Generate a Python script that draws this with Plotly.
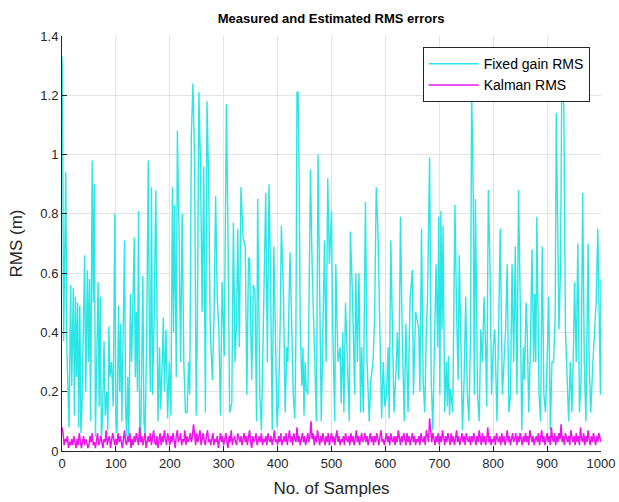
import plotly.graph_objects as go

# ---- data ----
fixed_x = [0, 1, 3, 5, 7, 9, 11, 13, 16, 18, 21, 23, 25, 27, 29, 31, 33, 35, 37, 39,
           42, 44, 47, 49, 51, 53, 56, 58, 60, 62, 64, 67, 69, 71, 73, 75, 78, 80, 83, 85,
           87, 89, 92, 95, 98, 100, 102, 105, 107, 109, 111, 113, 116, 118, 120, 122, 124, 127, 129, 131,
           134, 136, 138, 140, 142, 144, 146, 148, 150, 152, 154, 157, 160, 162, 164, 166, 168, 171, 174, 176,
           178, 181, 183, 186, 188, 190, 193, 196, 199, 202, 205, 207, 209, 212, 214, 217, 220, 223, 226, 229,
           232, 235, 237, 240, 243, 246, 249, 251, 254, 257, 260, 263, 266, 269, 272, 275, 279, 282, 285, 288,
           291, 294, 297, 301, 305, 308, 311, 315, 318, 321, 324, 326, 329, 332, 336, 340, 343, 346, 348, 352,
           355, 358, 361, 363, 367, 370, 373, 375, 378, 381, 384, 387, 390, 393, 396, 399, 402, 405, 407, 411,
           414, 417, 419, 423, 426, 429, 432, 434, 436, 438, 440, 442, 445, 447, 449, 451, 453, 456, 458, 461,
           464, 468, 472, 475, 478, 481, 484, 487, 490, 493, 496, 500, 502, 506, 508, 512, 516, 518, 521, 523,
           526, 529, 533, 535, 539, 543, 545, 548, 551, 554, 556, 559, 563, 566, 570, 573, 577, 580, 583, 586,
           590, 593, 596, 599, 602, 605, 607, 610, 613, 616, 620, 622, 625, 628, 631, 635, 638, 642, 644, 646,
           650, 652, 656, 659, 662, 664, 667, 670, 673, 676, 678, 682, 685, 688, 691, 694, 697, 699, 701, 703,
           705, 707, 710, 713, 715, 717, 719, 721, 725, 727, 729, 732, 735, 737, 740, 743, 746, 749, 752, 755,
           758, 760, 763, 765, 767, 771, 774, 777, 780, 783, 786, 788, 791, 794, 797, 800, 803, 807, 810, 813,
           817, 820, 823, 826, 829, 832, 835, 838, 841, 844, 847, 850, 853, 856, 858, 861, 863, 866, 869, 872,
           875, 877, 879, 881, 883, 885, 888, 891, 894, 897, 900, 903, 906, 909, 912, 915, 917, 919, 922, 925,
           927, 929, 931, 934, 937, 940, 943, 946, 949, 951, 954, 957, 960, 963, 966, 969, 972, 976, 978, 981,
           985, 988, 991, 994, 997, 999, 1000]
fixed_y = [1.33, 1.20, 0.37, 0.60, 0.94, 0.35, 0.19, 0.08, 0.56, 0.22, 0.55, 0.12, 0.52, 0.25, 0.50, 0.08, 0.49, 0.06, 0.15, 0.35,
           0.66, 0.20, 0.61, 0.30, 0.58, 0.10, 0.98, 0.50, 0.90, 0.05, 0.30, 0.57, 0.15, 0.52, 0.04, 0.10, 0.37, 0.12, 0.20, 0.07,
           0.42, 0.25, 0.30, 0.15, 0.80, 0.10, 0.06, 0.49, 0.20, 0.43, 0.10, 0.30, 0.71, 0.15, 0.05, 0.25, 0.04, 0.53, 0.30, 0.45,
           0.72, 0.25, 0.47, 0.20, 0.81, 0.08, 0.04, 0.30, 0.59, 0.10, 0.05, 0.35, 0.98, 0.40, 0.20, 0.89, 0.19, 0.45, 0.88, 0.51,
           0.10, 0.35, 0.14, 0.30, 0.45, 0.20, 0.41, 0.11, 0.30, 0.12, 0.89, 0.40, 0.83, 0.25, 1.08, 0.76, 0.30, 0.80, 0.30, 0.13,
           0.13, 0.30, 0.19, 1.07, 1.24, 0.97, 0.12, 0.40, 1.21, 0.96, 0.47, 0.96, 0.13, 1.18, 0.92, 0.41, 0.24, 0.45, 0.86, 0.52,
           0.41, 0.12, 0.57, 0.32, 1.17, 0.72, 0.13, 0.16, 0.77, 0.30, 0.45, 0.75, 0.35, 0.89, 0.72, 0.69, 0.19, 0.65, 0.65, 0.24,
           0.56, 0.54, 0.10, 0.85, 0.19, 0.07, 0.35, 0.57, 0.87, 0.30, 0.90, 0.58, 0.07, 0.69, 0.30, 0.08, 0.19, 0.45, 0.76, 0.52,
           0.13, 0.35, 0.30, 0.67, 0.44, 0.19, 0.11, 0.40, 1.21, 1.21, 0.92, 0.41, 0.22, 0.35, 0.12, 0.30, 0.21, 0.19, 0.45, 0.95,
           0.63, 0.39, 0.10, 1.00, 0.63, 0.10, 0.40, 0.71, 0.30, 0.92, 0.63, 0.81, 0.44, 0.10, 0.63, 0.30, 0.35, 0.16, 0.40, 0.13,
           0.50, 0.30, 0.10, 0.74, 0.52, 0.19, 0.60, 0.30, 0.60, 0.13, 0.35, 0.13, 0.84, 0.30, 0.10, 0.24, 0.30, 0.45, 0.89, 0.75,
           0.41, 0.11, 0.30, 0.15, 0.19, 0.35, 0.11, 0.71, 0.41, 0.13, 0.28, 0.40, 0.24, 0.79, 0.41, 0.10, 0.43, 0.13, 0.35, 0.52,
           0.61, 0.19, 0.47, 0.44, 0.41, 0.20, 0.75, 0.24, 0.13, 0.41, 0.50, 0.99, 0.24, 0.07, 0.30, 0.63, 0.35, 0.79, 0.19, 0.81,
           0.41, 0.76, 0.13, 0.30, 0.15, 0.32, 0.12, 0.21, 0.13, 0.40, 0.83, 0.47, 0.24, 0.66, 0.30, 0.07, 0.24, 0.52, 0.19, 0.10,
           0.40, 1.22, 0.86, 0.19, 0.85, 0.19, 0.10, 0.41, 0.30, 0.52, 0.35, 0.15, 0.88, 0.63, 0.19, 0.35, 0.41, 0.10, 0.41, 0.75,
           0.19, 0.30, 0.41, 0.63, 0.13, 0.19, 0.63, 0.30, 0.69, 0.19, 0.88, 0.52, 0.07, 0.35, 0.24, 0.50, 0.41, 0.13, 0.35, 0.68,
           0.30, 0.53, 0.30, 0.79, 0.35, 0.19, 0.10, 0.69, 0.19, 0.13, 0.30, 0.52, 0.07, 0.30, 0.30, 0.45, 1.14, 0.86, 0.41, 0.63,
           1.19, 1.22, 1.16, 0.41, 0.24, 0.10, 0.30, 0.13, 0.35, 0.57, 0.30, 0.70, 0.13, 0.24, 0.87, 0.30, 0.10, 0.70, 0.30, 0.13,
           0.30, 0.41, 0.50, 0.75, 0.35, 0.19, 0.58]

kalman_step = 2
kalman_y = [0.08, 0.06, 0.02, 0.04, 0.03, 0.05, 0.01, 0.03, 0.02, 0.04,
            0.02, 0.05, 0.03, 0.01, 0.04, 0.02, 0.06, 0.03, 0.01, 0.03,
            0.05, 0.02, 0.04, 0.03, 0.01, 0.02, 0.05, 0.03, 0.06, 0.02,
            0.03, 0.01, 0.04, 0.06, 0.02, 0.03, 0.05, 0.02, 0.01, 0.04,
            0.03, 0.07, 0.02, 0.04, 0.05, 0.01, 0.03, 0.06, 0.04, 0.02,
            0.04, 0.02, 0.06, 0.03, 0.05, 0.02, 0.01, 0.04, 0.07, 0.03,
            0.02, 0.05, 0.03, 0.06, 0.01, 0.04, 0.02, 0.05, 0.03, 0.06,
            0.04, 0.02, 0.08, 0.03, 0.05, 0.02, 0.04, 0.06, 0.01, 0.03,
            0.05, 0.03, 0.06, 0.02, 0.04, 0.07, 0.03, 0.02, 0.05, 0.01,
            0.04, 0.06, 0.02, 0.05, 0.03, 0.07, 0.04, 0.02, 0.06, 0.03,
            0.02, 0.05, 0.03, 0.06, 0.04, 0.01, 0.05, 0.07, 0.03, 0.04,
            0.06, 0.02, 0.04, 0.03, 0.07, 0.02, 0.05, 0.03, 0.04, 0.06,
            0.03, 0.05, 0.09, 0.04, 0.02, 0.06, 0.03, 0.05, 0.07, 0.02,
            0.04, 0.06, 0.03, 0.02, 0.05, 0.07, 0.03, 0.04, 0.02, 0.05,
            0.06, 0.02, 0.04, 0.03, 0.05, 0.01, 0.04, 0.06, 0.03, 0.05,
            0.02, 0.04, 0.06, 0.03, 0.01, 0.05, 0.03, 0.07, 0.02, 0.04,
            0.05, 0.03, 0.02, 0.06, 0.04, 0.03, 0.05, 0.02, 0.04, 0.06,
            0.03, 0.05, 0.02, 0.04, 0.07, 0.03, 0.01, 0.05, 0.03, 0.04,
            0.06, 0.02, 0.04, 0.05, 0.03, 0.06, 0.02, 0.04, 0.03, 0.05,
            0.02, 0.06, 0.04, 0.03, 0.05, 0.02, 0.04, 0.07, 0.03, 0.04,
            0.02, 0.05, 0.03, 0.06, 0.02, 0.04, 0.05, 0.03, 0.06, 0.02,
            0.04, 0.07, 0.03, 0.05, 0.02, 0.06, 0.04, 0.03, 0.08, 0.03,
            0.05, 0.02, 0.04, 0.06, 0.03, 0.05, 0.02, 0.04, 0.06, 0.03,
            0.05, 0.10, 0.04, 0.06, 0.02, 0.05, 0.03, 0.07, 0.04, 0.02,
            0.05, 0.03, 0.06, 0.04, 0.02, 0.05, 0.03, 0.06, 0.02, 0.04,
            0.06, 0.03, 0.05, 0.02, 0.04, 0.07, 0.03, 0.05, 0.02, 0.04,
            0.03, 0.05, 0.02, 0.06, 0.04, 0.03, 0.05, 0.02, 0.06, 0.03,
            0.05, 0.02, 0.04, 0.07, 0.03, 0.05, 0.02, 0.04, 0.06, 0.03,
            0.04, 0.06, 0.03, 0.05, 0.02, 0.04, 0.06, 0.03, 0.05, 0.02,
            0.05, 0.03, 0.06, 0.04, 0.02, 0.05, 0.07, 0.03, 0.04, 0.02,
            0.04, 0.06, 0.03, 0.05, 0.02, 0.06, 0.04, 0.03, 0.05, 0.02,
            0.05, 0.03, 0.07, 0.04, 0.02, 0.05, 0.03, 0.06, 0.04, 0.02,
            0.06, 0.03, 0.05, 0.02, 0.04, 0.06, 0.03, 0.05, 0.02, 0.04,
            0.03, 0.05, 0.02, 0.06, 0.04, 0.03, 0.05, 0.02, 0.07, 0.04,
            0.03, 0.11, 0.05, 0.03, 0.06, 0.04, 0.02, 0.05, 0.03, 0.06,
            0.02, 0.05, 0.03, 0.07, 0.04, 0.02, 0.05, 0.03, 0.06, 0.04,
            0.02, 0.06, 0.03, 0.05, 0.02, 0.04, 0.07, 0.03, 0.05, 0.02,
            0.04, 0.06, 0.03, 0.05, 0.02, 0.06, 0.04, 0.03, 0.05, 0.02,
            0.05, 0.03, 0.06, 0.04, 0.02, 0.05, 0.03, 0.07, 0.04, 0.02,
            0.06, 0.03, 0.05, 0.02, 0.04, 0.08, 0.03, 0.05, 0.02, 0.04,
            0.03, 0.05, 0.02, 0.06, 0.04, 0.03, 0.05, 0.02, 0.06, 0.03,
            0.05, 0.02, 0.04, 0.07, 0.03, 0.05, 0.02, 0.04, 0.06, 0.03,
            0.04, 0.06, 0.02, 0.05, 0.03, 0.06, 0.04, 0.02, 0.05, 0.03,
            0.06, 0.03, 0.05, 0.02, 0.07, 0.04, 0.03, 0.05, 0.02, 0.04,
            0.05, 0.03, 0.06, 0.02, 0.04, 0.07, 0.03, 0.05, 0.02, 0.04,
            0.06, 0.03, 0.05, 0.02, 0.08, 0.04, 0.03, 0.06, 0.02, 0.05,
            0.03, 0.06, 0.04, 0.09, 0.03, 0.05, 0.02, 0.06, 0.04, 0.03,
            0.05, 0.02, 0.07, 0.04, 0.03, 0.05, 0.02, 0.06, 0.03, 0.05,
            0.02, 0.08, 0.04, 0.03, 0.06, 0.02, 0.05, 0.03, 0.07, 0.04,
            0.02, 0.05, 0.03, 0.06, 0.04, 0.02, 0.05, 0.03, 0.06, 0.04,
            0.03]
kalman_x = [i * kalman_step for i in range(len(kalman_y))]

x_ticks = [0, 100, 200, 300, 400, 500, 600, 700, 800, 900, 1000]
y_ticks = [0, 0.2, 0.4, 0.6, 0.8, 1.0, 1.2, 1.4]
y_tick_labels = ["0", "0.2", "0.4", "0.6", "0.8", "1", "1.2", "1.4"]

FONT = "Liberation Sans, Arial, sans-serif"
TXT = "#262626"

fig = go.Figure()
fig.add_trace(go.Scatter(x=fixed_x, y=fixed_y, mode="lines", name="Fixed gain RMS",
                         line=dict(color="#2ae6e6", width=1.4)))
fig.add_trace(go.Scatter(x=kalman_x, y=kalman_y, mode="lines", name="Kalman RMS",
                         line=dict(color="#ee14ee", width=1.5)))

axis_common = dict(showgrid=True, gridcolor="#e3e3e3", gridwidth=1,
                   showline=True, linecolor=TXT, linewidth=1, mirror=False,
                   ticks="inside", ticklen=5, tickcolor=TXT, automargin=False,
                   tickfont=dict(family=FONT, size=13, color=TXT), zeroline=False)

fig.update_layout(
    width=619, height=502,
    margin=dict(l=62, r=18, t=36, b=51),
    paper_bgcolor="white", plot_bgcolor="white",
    title=dict(text="<b>Measured and Estimated RMS errors</b>", x=0.535, xanchor="center",
               y=0.963, yanchor="middle", font=dict(family=FONT, size=13, color="black")),
    xaxis=dict(range=[0, 1000], tickvals=x_ticks,
               title=dict(text="No. of Samples", font=dict(family=FONT, size=17, color=TXT), standoff=12),
               **axis_common),
    yaxis=dict(range=[0, 1.4], tickvals=y_ticks, ticktext=y_tick_labels,
               title=dict(text="RMS (m)", font=dict(family=FONT, size=17, color=TXT), standoff=13),
               **axis_common),
    legend=dict(x=0.979, y=0.973, xanchor="right", yanchor="top",
                bgcolor="white", bordercolor=TXT, borderwidth=1,
                font=dict(family=FONT, size=14, color="black"),
                tracegroupgap=0, itemwidth=50),
    showlegend=True,
)

fig.write_html("out.html")
